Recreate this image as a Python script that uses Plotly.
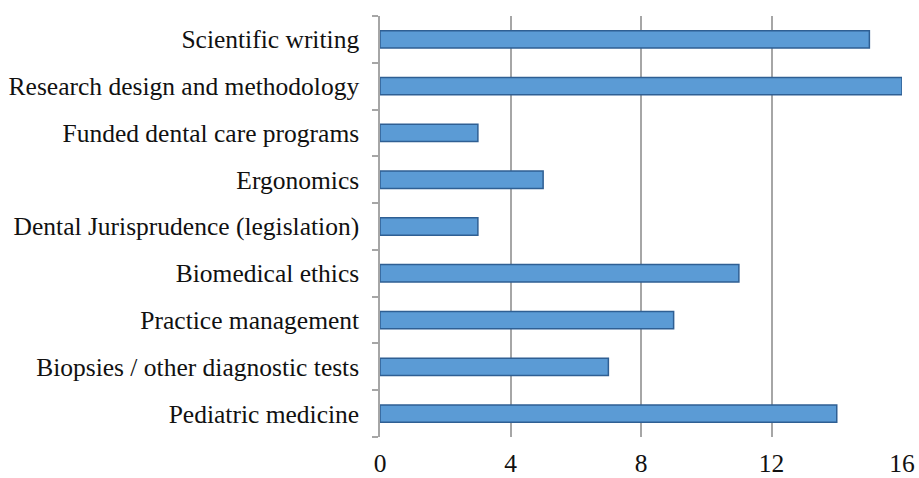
import plotly.graph_objects as go

categories = [
    "Scientific writing",
    "Research design and methodology",
    "Funded dental care programs",
    "Ergonomics",
    "Dental Jurisprudence (legislation)",
    "Biomedical ethics",
    "Practice management",
    "Biopsies / other diagnostic tests",
    "Pediatric medicine",
]
values = [15, 16, 3, 5, 3, 11, 9, 7, 14]
x_ticks = [0, 4, 8, 12, 16]

fig = go.Figure(
    go.Bar(
        y=categories,
        x=values,
        orientation="h",
        marker=dict(color="#5B9BD5", line=dict(color="#2F5F93", width=1.5)),
        width=0.37,
    )
)

fig.update_layout(
    width=919,
    height=478,
    margin=dict(l=380, r=17, t=16, b=41),
    plot_bgcolor="white",
    paper_bgcolor="white",
    font=dict(family="Liberation Serif, Times New Roman, serif", size=25.5, color="#111111"),
    showlegend=False,
)

fig.update_xaxes(
    automargin=False,
    range=[0, 16],
    tickvals=x_ticks,
    showgrid=True,
    gridcolor="#A6A6A6",
    gridwidth=1.5,
    zeroline=False,
    showline=False,
    ticks="",
    ticklabelstandoff=8,
)

fig.update_yaxes(
    automargin=False,
    categoryorder="array",
    categoryarray=categories[::-1],
    range=[-0.5, 8.5],
    showline=True,
    linecolor="#A6A6A6",
    linewidth=1.5,
    ticks="outside",
    tickson="boundaries",
    ticklen=6,
    tickcolor="#A6A6A6",
    tickwidth=1.5,
    ticklabelstandoff=14,
    showgrid=False,
)

fig.write_html(
    "out.html",
    config={"displayModeBar": False},
    post_script="document.body.style.margin='0';document.body.style.overflow='hidden';",
)
